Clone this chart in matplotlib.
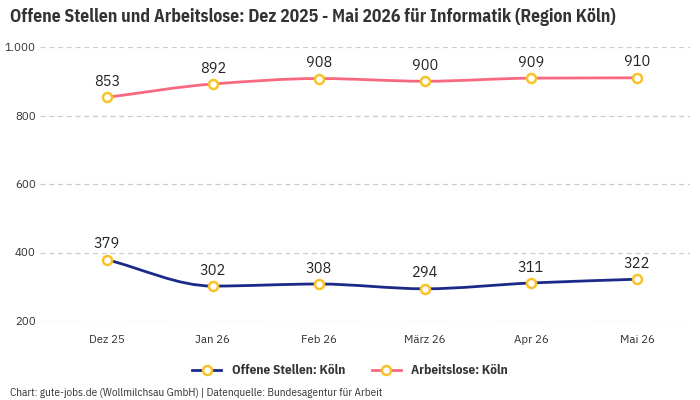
import numpy as np
import matplotlib
matplotlib.use("Agg")
import matplotlib.pyplot as plt
from matplotlib.path import Path
from matplotlib.patches import PathPatch
from matplotlib.lines import Line2D

months = ["Dez 25", "Jan 26", "Feb 26", "März 26", "Apr 26", "Mai 26"]
offene_stellen = [379, 302, 308, 294, 311, 322]
arbeitslose = [853, 892, 908, 900, 909, 910]
yticks = [200, 400, 600, 800, 1000]
ytick_labels = ["200", "400", "600", "800", "1.000"]

blue = "#1b2a8a"
pink = "#f7697f"
marker_edge = "#f8c22b"
cond = ["IBM Plex Sans Condensed", "DejaVu Sans"]

plt.rcParams["font.family"] = ["IBM Plex Sans", "DejaVu Sans"]


def monotone_path(xs, ys):
    # cubic bezier segments with monotone (Fritsch-Carlson) tangents
    xs = np.asarray(xs, float)
    ys = np.asarray(ys, float)
    d = np.diff(ys) / np.diff(xs)
    m = np.zeros_like(ys)
    m[0], m[-1] = d[0], d[-1]
    for i in range(1, len(ys) - 1):
        if d[i - 1] * d[i] <= 0:
            m[i] = 0
        else:
            m[i] = 2 / (1 / d[i - 1] + 1 / d[i])
    verts = [(xs[0], ys[0])]
    codes = [Path.MOVETO]
    for i in range(len(xs) - 1):
        h = xs[i + 1] - xs[i]
        verts += [(xs[i] + h / 3, ys[i] + m[i] * h / 3),
                  (xs[i + 1] - h / 3, ys[i + 1] - m[i + 1] * h / 3),
                  (xs[i + 1], ys[i + 1])]
        codes += [Path.CURVE4] * 3
    return Path(verts, codes)


fig = plt.figure(figsize=(7, 4), dpi=100)
ax = fig.add_axes([40 / 700, 1 - 321 / 400, 650 / 700, 274 / 400])

x = np.arange(len(months))
for series, color in [(offene_stellen, blue), (arbeitslose, pink)]:
    ax.add_patch(PathPatch(monotone_path(x, series), facecolor="none",
                           edgecolor=color, lw=2, zorder=3))
    ax.plot(x, series, ls="none", marker="o", ms=6.5, mfc="white",
            mec=marker_edge, mew=1.8, zorder=4)
    for xi, v in zip(x, series):
        ax.annotate(str(v), (xi, v), xytext=(0, 6), textcoords="offset points",
                    ha="center", va="bottom", fontsize=10.5, fontweight="semibold",
                    color="#222222", zorder=5)

ax.set_xlim(-0.63, 5.5)
ax.set_ylim(200, 1000)
ax.set_yticks(yticks)
ax.set_yticklabels(ytick_labels)
ax.set_xticks(x)
ax.set_xticklabels(months)
ax.tick_params(axis="both", length=0, labelsize=8.3, labelcolor="#333333")
ax.tick_params(axis="x", pad=10)
ax.tick_params(axis="y", pad=3)
ax.grid(axis="y", color="#cccccc", ls=(0, (4, 3)), lw=0.9)
ax.set_axisbelow(True)
for s in ax.spines.values():
    s.set_visible(False)

fig.text(10 / 700, 1 - 8 / 400,
         "Offene Stellen und Arbeitslose: Dez 2025 - Mai 2026 für Informatik (Region Köln)",
         ha="left", va="top", fontsize=12.7, fontweight="bold", color="#333333",
         family=cond)

handles = [Line2D([], [], color=blue, lw=2, marker="o", ms=6.5, mfc="white",
                  mec=marker_edge, mew=1.8),
           Line2D([], [], color=pink, lw=2, marker="o", ms=6.5, mfc="white",
                  mec=marker_edge, mew=1.8)]
fig.legend(handles, ["Offene Stellen: Köln", "Arbeitslose: Köln"],
           loc="center", bbox_to_anchor=(0.5, 1 - 371 / 400), ncol=2,
           frameon=False, handlelength=2.2, columnspacing=2,
           labelcolor="#333333",
           prop={"family": cond, "weight": "bold", "size": 9.5})

fig.text(10 / 700, 1 - 393 / 400,
         "Chart: gute-jobs.de (Wollmilchsau GmbH) | Datenquelle: Bundesagentur für Arbeit",
         ha="left", va="center", fontsize=8, color="#333333", family=cond)

fig.savefig("out.png", dpi=100)
